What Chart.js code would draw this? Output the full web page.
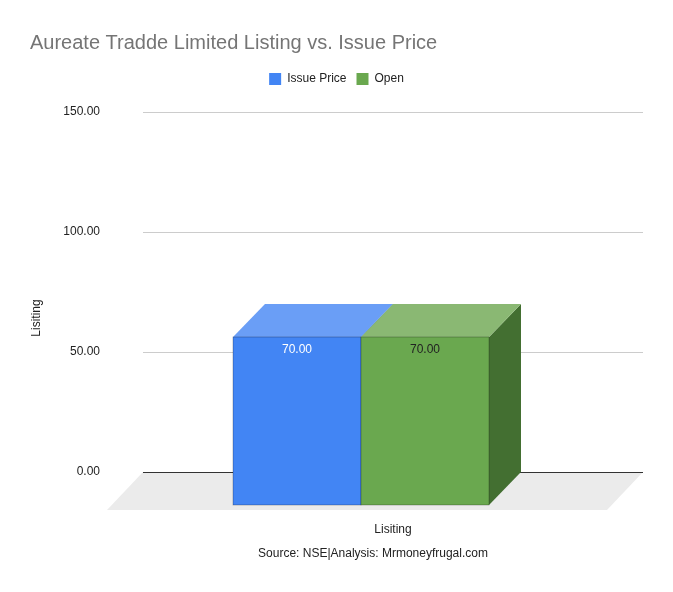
<!DOCTYPE html>
<html><head><script src="https://cdn.jsdelivr.net/npm/chart.js"></script>
<style>body{margin:0;background:#fff}#w{width:673px;height:592px}</style></head>
<body><div id="w"><canvas id="c"></canvas></div>
<script>
const categories=["Lisiting"];
const issuePrice=[70];
const openPrice=[70];
const yTicks=[0,50,100,150];
const seriesNames=["Issue Price","Open"];
const DX=-32, DY=33;
const cols=[{front:"#4285f4",top:"#6a9ef6",side:"#2f5fae",label:"#ffffff"},{front:"#6aa84f",top:"#8ab873",side:"#436f31",label:"#222222"}];
const F="Arial, 'Liberation Sans'";
const p3d={id:"p3d",
 beforeInit(ch){const f=ch.legend.fit.bind(ch.legend);ch.legend.fit=function(){f();this.height+=17;};},
 beforeDatasetsDraw(ch){const c=ch.ctx,a=ch.chartArea,y0=ch.scales.y.getPixelForValue(0);
  c.save();c.fillStyle="#ebebeb";c.beginPath();c.moveTo(a.left,y0);c.lineTo(a.right,y0);c.lineTo(a.right-36,y0+38);c.lineTo(a.left-36,y0+38);c.closePath();c.fill();
  c.strokeStyle="#333";c.lineWidth=1;c.beginPath();c.moveTo(a.left,y0+0.5);c.lineTo(a.right,y0+0.5);c.stroke();c.restore();},
 afterDatasetsDraw(ch){const c=ch.ctx,y0=ch.scales.y.getPixelForValue(0);c.save();
  for(let d=0;d<ch.data.datasets.length;d++){ch.getDatasetMeta(d).data.forEach((b,i)=>{
   const l=b.x-b.width/2,r=b.x+b.width/2,t=b.y,k=cols[d];
   c.fillStyle=k.side;c.beginPath();c.moveTo(r,t);c.lineTo(r,y0);c.lineTo(r+DX,y0+DY);c.lineTo(r+DX,t+DY);c.closePath();c.fill();
   c.fillStyle=k.top;c.beginPath();c.moveTo(l,t);c.lineTo(r,t);c.lineTo(r+DX,t+DY);c.lineTo(l+DX,t+DY);c.closePath();c.fill();
   c.fillStyle=k.front;c.fillRect(l+DX,t+DY,b.width,y0-t);
   c.strokeStyle="rgba(0,0,0,0.35)";c.lineWidth=0.7;c.strokeRect(l+DX,t+DY,b.width,y0-t);
   c.fillStyle=k.label;c.font="12px "+F;c.textAlign="center";c.textBaseline="middle";
   c.fillText(ch.data.datasets[d].data[i].toFixed(2),b.x+DX,t+DY+13);});}
  c.fillStyle="#222";c.font="12px "+F;c.textAlign="center";c.textBaseline="middle";
  c.fillText("Source: NSE|Analysis: Mrmoneyfrugal.com",373,554);
  c.translate(37,318);c.rotate(-Math.PI/2);c.fillText("Lisiting",0,0);c.restore();}};
new Chart(document.getElementById("c"),{type:"bar",
 data:{labels:categories,datasets:[{label:seriesNames[0],data:issuePrice,backgroundColor:"rgba(0,0,0,0)",borderWidth:0},{label:seriesNames[1],data:openPrice,backgroundColor:"rgba(0,0,0,0)",borderWidth:0}]},
 options:{responsive:true,maintainAspectRatio:false,animation:false,
  datasets:{bar:{categoryPercentage:0.512,barPercentage:1}},
  layout:{padding:{left:30,right:30,top:0,bottom:0}},
  plugins:{tooltip:{enabled:false},
   title:{display:true,text:"Aureate Tradde Limited Listing vs. Issue Price",align:"start",color:"#757575",font:{family:F,size:20,weight:"normal"},padding:{top:31,bottom:8}},
   legend:{labels:{boxWidth:12,boxHeight:12,color:"#222",font:{family:F,size:12},
    generateLabels:(ch)=>ch.data.datasets.map((d,i)=>({text:d.label,fillStyle:cols[i].front,strokeStyle:cols[i].front,lineWidth:0,datasetIndex:i,fontColor:"#222"}))}}},
  scales:{
   x:{grid:{display:false},border:{display:false},ticks:{padding:42,color:"#222",font:{family:F,size:12}},afterFit(s){s.height=120;}},
   y:{min:0,max:150,afterBuildTicks(s){s.ticks=yTicks.map(v=>({value:v}));},border:{display:false},grid:{color:"#cccccc",drawTicks:false},
    ticks:{padding:43,color:"#222",font:{family:F,size:12},callback:v=>v.toFixed(2)},afterFit(s){s.width=113;}}}},
 plugins:[p3d]});
</script></body></html>
